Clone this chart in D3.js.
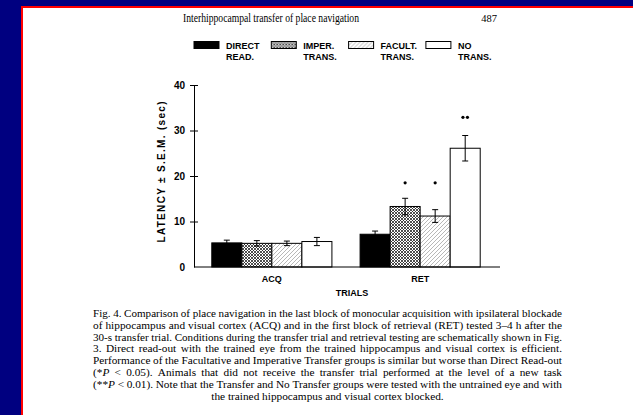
<!DOCTYPE html>
<html>
<head>
<meta charset="utf-8">
<script src="https://cdn.jsdelivr.net/npm/d3@7"></script>
<style>
	body { margin: 0; background: #000080; }
	svg { display: block; }
</style>
</head>
<body>
<svg id="fig" width="633" height="415"></svg>
<script>
// Chart data
var groups = ["ACQ", "RET"];
var series = ["DIRECT READ.", "IMPER. TRANS.", "FACULT. TRANS.", "NO TRANS."];
var legendLine1 = ["DIRECT", "IMPER.", "FACULT.", "NO"];
var legendLine2 = ["READ.", "TRANS.", "TRANS.", "TRANS."];
var acqMeans = [5.3, 5.2, 5.2, 5.6];
var acqSem = [0.6, 0.6, 0.5, 0.9];
var retMeans = [7.2, 13.3, 11.2, 26.1];
var retSem = [0.7, 1.8, 1.4, 2.8];
var retSignif = ["", "*", "*", "**"];
var starLevel = [0, 18.5, 18.5, 32.9];
var yTicks = [0, 10, 20, 30, 40];

var captionLines = [
	"Fig. 4. Comparison of place navigation in the last block of monocular acquisition with ipsilateral blockade",
	"of hippocampus and visual cortex (ACQ) and in the first block of retrieval (RET) tested 3\u20134 h after the",
	"30-s transfer trial. Conditions during the transfer trial and retrieval testing are schematically shown in Fig.",
	"3. Direct read-out with the trained eye from the trained hippocampus and visual cortex is efficient.",
	"Performance of the Facultative and Imperative Transfer groups is similar but worse than Direct Read-out",
	"(*_P_ < 0.05). Animals that did not receive the transfer trial performed at the level of a new task",
	"(**_P_ < 0.01). Note that the Transfer and No Transfer groups were tested with the untrained eye and with",
	"the trained hippocampus and visual cortex blocked."
];

var fig = {};
fig.sans = "'Liberation Sans', Arial, sans-serif";
fig.serif = "'Liberation Serif', 'Times New Roman', serif";

fig.draw = () => {
	let svg = d3.select("#fig");

	// Page frame
	svg.append("rect").attr("width", 633).attr("height", 415).attr("fill", "#000080");
	svg.append("rect").attr("x", 21).attr("y", 6).attr("width", 612).attr("height", 409).attr("fill", "#ff0000");
	svg.append("rect").attr("x", 23).attr("y", 8).attr("width", 610).attr("height", 407).attr("fill", "#ffffff");

	// Fill patterns
	let defs = svg.append("defs");
	let pImp = defs.append("pattern").attr("id", "imper")
		.attr("patternUnits", "userSpaceOnUse").attr("width", 3).attr("height", 3);
	pImp.append("rect").attr("width", 3).attr("height", 3).attr("fill", "#fff");
	pImp.append("path").attr("d", "M0,3L3,0M-1,1L1,-1M2,4L4,2M0,0L3,3M-1,2L1,4M2,-1L4,1")
		.attr("stroke", "#222").attr("stroke-width", 0.8);
	let pFac = defs.append("pattern").attr("id", "facult")
		.attr("patternUnits", "userSpaceOnUse").attr("width", 4).attr("height", 4);
	pFac.append("rect").attr("width", 4).attr("height", 4).attr("fill", "#fff");
	pFac.append("path").attr("d", "M0,4L4,0M-1,1L1,-1M3,5L5,3")
		.attr("stroke", "#888").attr("stroke-width", 0.6);

	let fills = ["#000", "url(#imper)", "url(#facult)", "#fff"];

	// Page header
	svg.append("text").attr("x", 271).attr("y", 22)
		.attr("text-anchor", "middle").style("font-family", fig.serif).style("font-size", "11.5px")
		.attr("textLength", 176).attr("lengthAdjust", "spacingAndGlyphs")
		.text("Interhippocampal transfer of place navigation");
	svg.append("text").attr("x", 497).attr("y", 22)
		.attr("text-anchor", "end").style("font-family", fig.serif).style("font-size", "10.5px")
		.text("487");

	// Legend
	let legend = svg.append("g").attr("transform", "translate(194,41.5)");
	let item = legend.selectAll("g").data(series).enter().append("g")
		.attr("transform", (d, i) => "translate(" + (i * 77.3) + ",0)");
	item.append("rect").attr("width", 25).attr("height", 7)
		.attr("fill", (d, i) => fills[i]).attr("stroke", "#000").attr("stroke-width", 1);
	item.append("text").attr("x", 32).attr("y", 7.5)
		.style("font-family", fig.sans).style("font-weight", "bold").style("font-size", "9px")
		.text((d, i) => legendLine1[i]);
	item.append("text").attr("x", 32).attr("y", 18.5)
		.style("font-family", fig.sans).style("font-weight", "bold").style("font-size", "9px")
		.text((d, i) => legendLine2[i]);

	// Scales
	let y = d3.scaleLinear().domain([0, 40]).range([267, 85]);
	let x0 = d3.scaleBand().domain(groups).range([194, 498]).paddingInner(0.19).paddingOuter(0.12);
	let x1 = d3.scaleBand().domain(series).range([0, x0.bandwidth()]);

	let rows = [];
	groups.forEach((g, gi) => {
		series.forEach((s, si) => {
			rows.push({
				group: g, series: s, idx: si,
				mean: gi == 0 ? acqMeans[si] : retMeans[si],
				sem: gi == 0 ? acqSem[si] : retSem[si],
				sig: gi == 0 ? "" : retSignif[si],
				star: gi == 0 ? 0 : starLevel[si]
			});
		});
	});

	// Bars
	let bars = svg.append("g");
	bars.selectAll("rect").data(rows).enter().append("rect")
		.attr("x", d => x0(d.group) + x1(d.series))
		.attr("y", d => y(d.mean))
		.attr("width", x1.bandwidth())
		.attr("height", d => y(0) - y(d.mean))
		.attr("fill", d => fills[d.idx])
		.attr("stroke", "#000").attr("stroke-width", 1);

	// Error bars
	let err = svg.append("g").attr("stroke", "#000").attr("stroke-width", 1);
	rows.forEach(d => {
		let cx = x0(d.group) + x1(d.series) + x1.bandwidth() / 2;
		err.append("line").attr("x1", cx).attr("x2", cx)
			.attr("y1", y(d.mean + d.sem)).attr("y2", y(d.mean - d.sem));
		err.append("line").attr("x1", cx - 3).attr("x2", cx + 3)
			.attr("y1", y(d.mean + d.sem)).attr("y2", y(d.mean + d.sem));
		err.append("line").attr("x1", cx - 3).attr("x2", cx + 3)
			.attr("y1", y(d.mean - d.sem)).attr("y2", y(d.mean - d.sem));
	});

	// Significance marks
	rows.filter(d => d.sig != "").forEach(d => {
		let cx = x0(d.group) + x1(d.series) + x1.bandwidth() / 2;
		let n = d.sig.length;
		for (let k = 0; k < n; k++) {
			svg.append("circle").attr("cx", cx + (k - (n - 1) / 2) * 4.5).attr("cy", y(d.star))
				.attr("r", 1.6).attr("fill", "#000");
		}
	});

	// Y axis
	let yAxis = svg.append("g").attr("transform", "translate(194,0)")
		.call(d3.axisLeft(y).tickValues(yTicks).tickSize(4).tickSizeOuter(0).tickPadding(5));
	yAxis.select(".domain").attr("stroke", "#000").attr("stroke-width", 1);
	yAxis.selectAll(".tick line").attr("x1", 4).attr("stroke", "#000")
		.filter(d => d == 0).remove();
	yAxis.selectAll(".tick text")
		.style("font-family", fig.sans).style("font-weight", "bold").style("font-size", "10px")
		.attr("fill", "#000");

	// X axis line
	svg.append("line").attr("x1", 194).attr("x2", 500).attr("y1", y(0)).attr("y2", y(0))
		.attr("stroke", "#000").attr("stroke-width", 1);

	// Group labels
	svg.selectAll(".glabel").data(groups).enter().append("text")
		.attr("class", "glabel")
		.attr("x", d => x0(d) + x0.bandwidth() / 2).attr("y", 282)
		.attr("text-anchor", "middle")
		.style("font-family", fig.sans).style("font-weight", "bold").style("font-size", "9px")
		.text(d => d);

	// Axis titles
	svg.append("text").attr("x", 352).attr("y", 296).attr("text-anchor", "middle")
		.style("font-family", fig.sans).style("font-weight", "bold").style("font-size", "9px")
		.text("TRIALS");
	svg.append("text")
		.attr("transform", "translate(165,172) rotate(-90)")
		.attr("text-anchor", "middle")
		.style("font-family", fig.sans).style("font-weight", "bold").style("font-size", "10px")
		.attr("textLength", 141).attr("lengthAdjust", "spacing")
		.text("LATENCY \u00b1 S.E.M. (sec)");

	fig.drawCaption(svg);
}

// Justified caption, word by word
fig.drawCaption = (svg) => {
	let left = 93, right = 562, top = 317, lead = 11.8, minGap = 2.6;
	let cap = svg.append("g")
		.style("font-family", fig.serif).style("font-size", "11.3px").attr("fill", "#000");

	captionLines.forEach((line, li) => {
		let words = line.split(" ");
		let yy = top + li * lead;
		let nodes = words.map(w => {
			let t = cap.append("text").attr("y", yy);
			w.split("_").forEach((part, pi) => {
				if (part == "") return;
				t.append("tspan").style("font-style", pi % 2 == 1 ? "italic" : "normal").text(part);
			});
			return t;
		});
		let widths = nodes.map(t => t.node().getComputedTextLength());
		let total = d3.sum(widths);
		let last = li == captionLines.length - 1;
		// squeeze words a little when the line is too long
		let room = right - left - minGap * (words.length - 1);
		let s = last ? 1 : Math.min(1, room / total);
		if (s < 1) {
			widths = widths.map(w => w * s);
			nodes.forEach((t, i) => t.attr("textLength", widths[i]).attr("lengthAdjust", "spacingAndGlyphs"));
			total = d3.sum(widths);
		}
		let gap = last ? 2.8 : (right - left - total) / (words.length - 1);
		let xx = last ? (left + right) / 2 - (total + gap * (words.length - 1)) / 2 : left;
		nodes.forEach((t, i) => {
			t.attr("x", xx);
			xx += widths[i] + gap;
		});
	});
}

fig.draw();
</script>
</body>
</html>
